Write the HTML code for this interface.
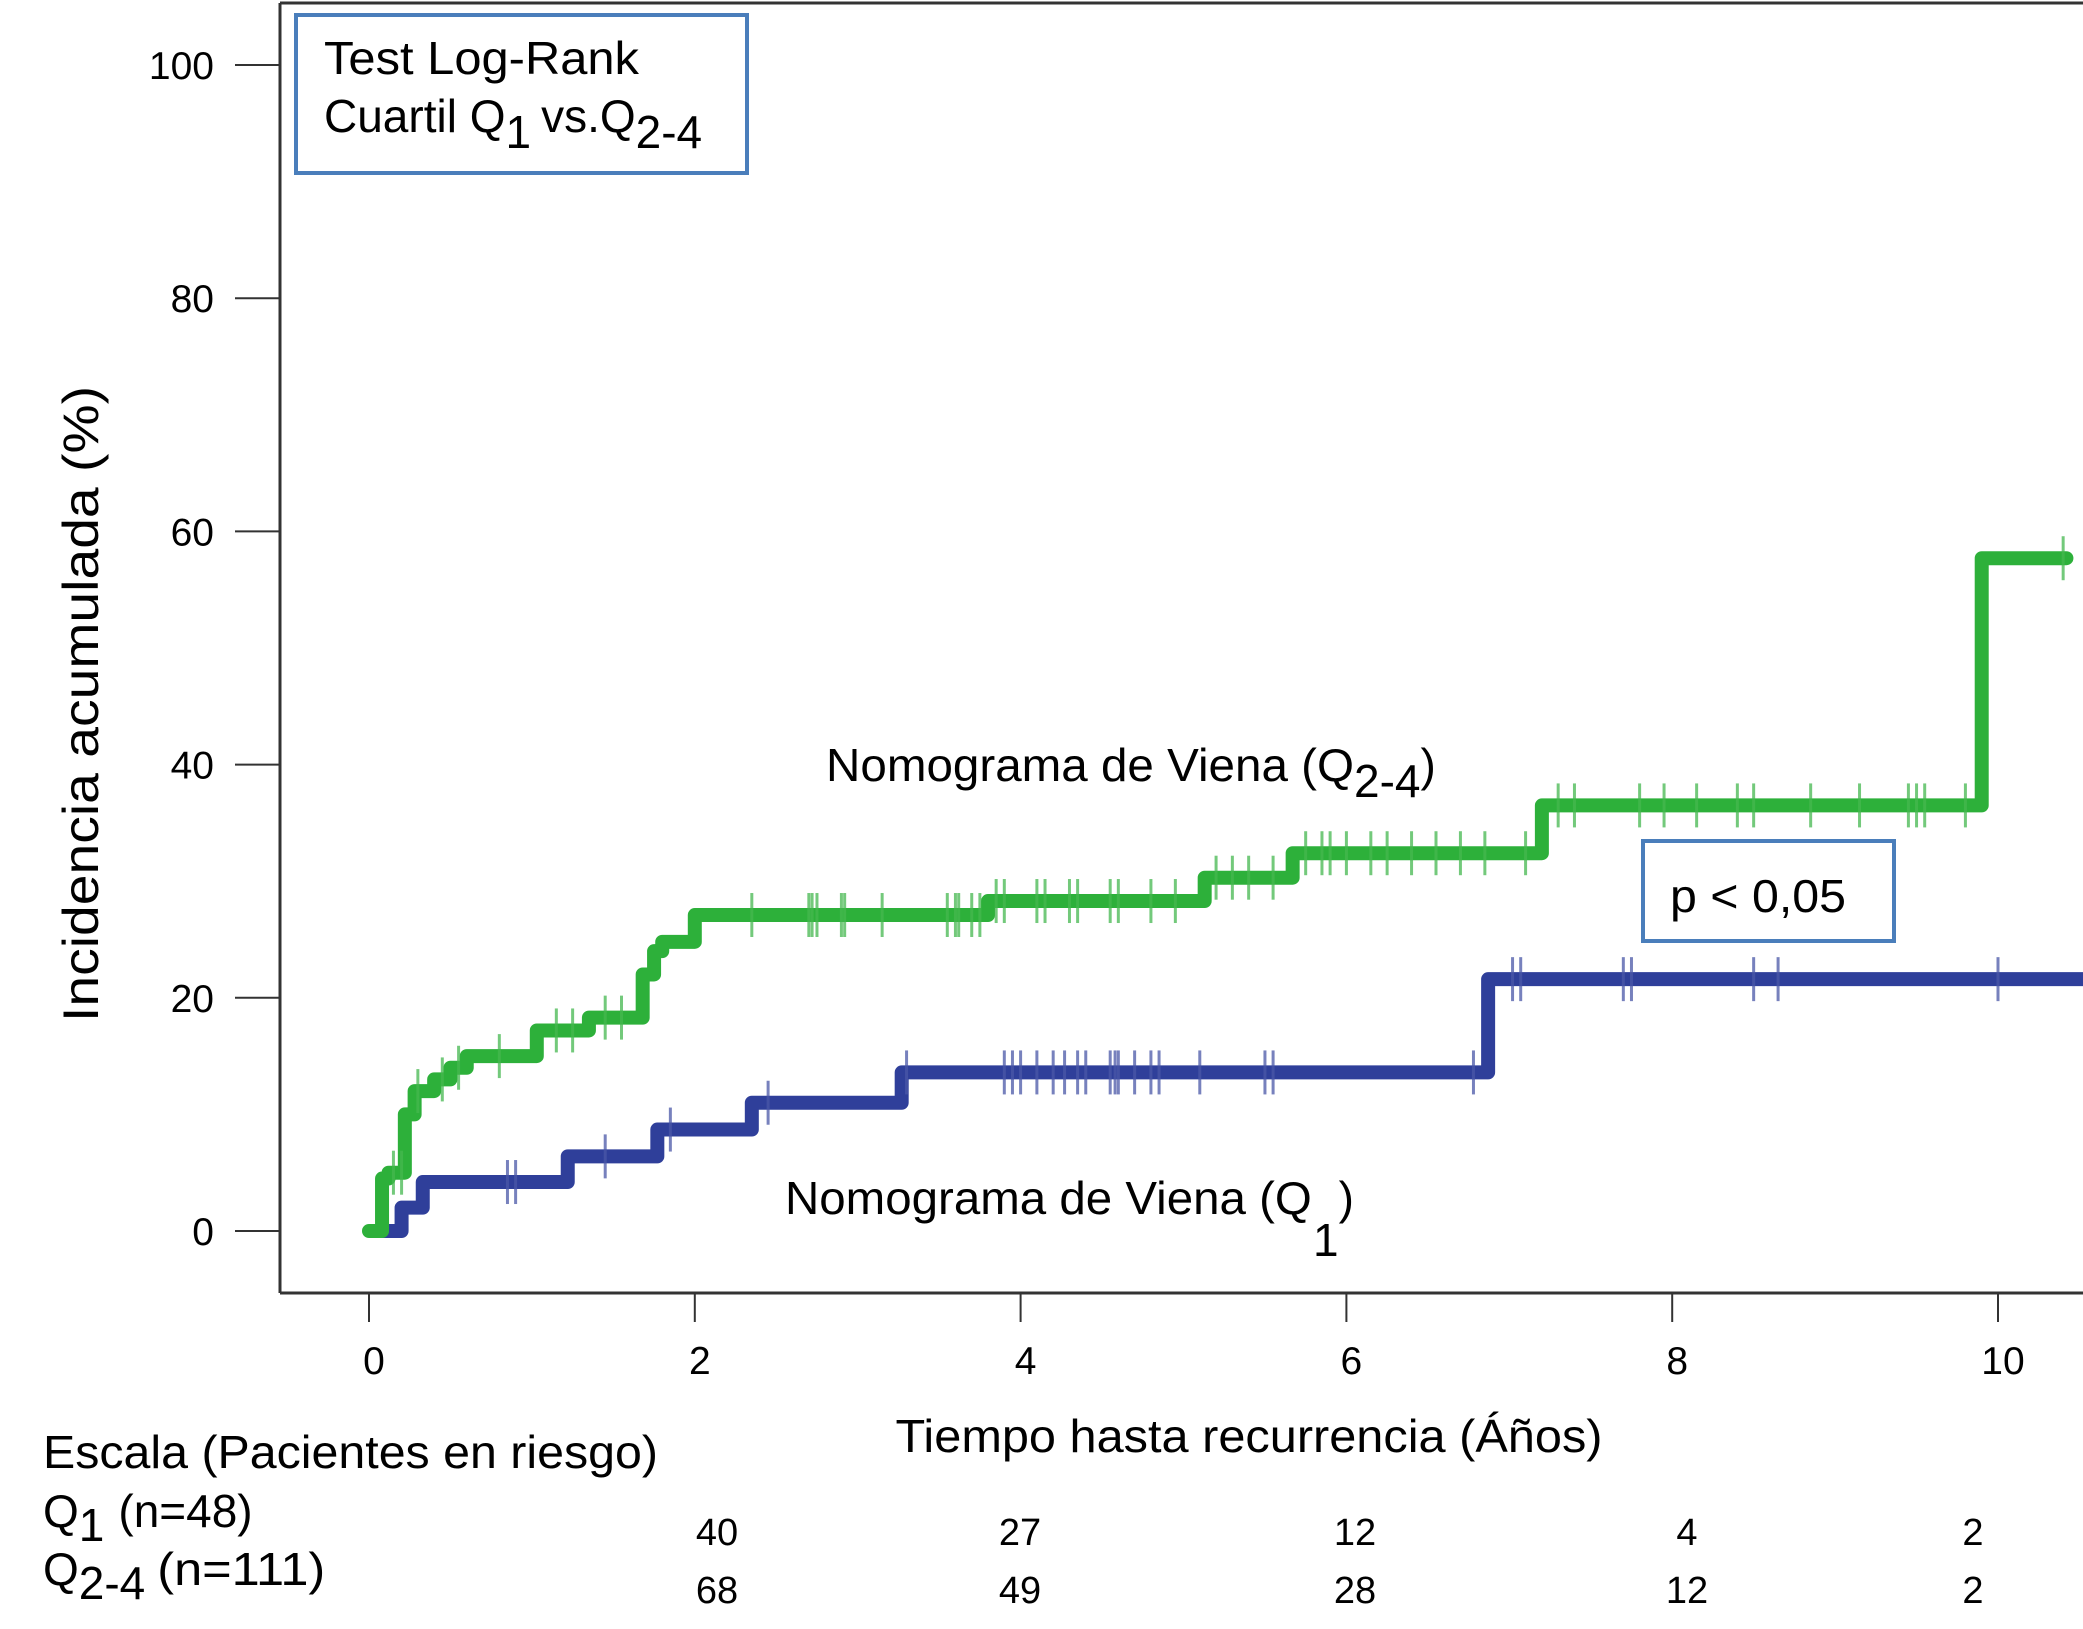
<!DOCTYPE html>
<html><head><meta charset="utf-8"><style>
html,body{margin:0;padding:0;background:#fff;}
svg{display:block;font-family:"Liberation Sans",sans-serif;}
</style></head><body>
<svg id="chart" width="2083" height="1629" viewBox="0 0 2083 1629">
<g id="axes"></g>
<g id="series"></g>
<rect x="296" y="15" width="451" height="158" fill="none" stroke="#4a7ebb" stroke-width="4"/>
<text x="324" y="74" font-size="46" textLength="315" lengthAdjust="spacingAndGlyphs">Test Log-Rank</text>
<text x="324" y="132" font-size="46">Cuartil Q<tspan dy="16">1</tspan><tspan dy="-16" dx="10">vs.Q</tspan><tspan dy="16">2-4</tspan></text>
<rect x="1643" y="841" width="251" height="100" fill="none" stroke="#4a7ebb" stroke-width="4"/>
<text x="1670" y="912" font-size="46" textLength="176" lengthAdjust="spacingAndGlyphs">p &lt; 0,05</text>
<text x="826" y="781" font-size="46"><tspan textLength="528" lengthAdjust="spacingAndGlyphs">Nomograma de Viena (Q</tspan><tspan dy="16">2-4</tspan><tspan dy="-16">)</tspan></text>
<text x="785" y="1214" font-size="46"><tspan textLength="540" lengthAdjust="spacingAndGlyphs">Nomograma de Viena (Q </tspan><tspan dx="-12" dy="42">1</tspan><tspan dy="-42">)</tspan></text>
<text transform="translate(98,704) rotate(-90)" text-anchor="middle" font-size="50" textLength="636" lengthAdjust="spacingAndGlyphs">Incidencia acumulada (%)</text>
<text x="1249" y="1452" text-anchor="middle" font-size="46" textLength="707" lengthAdjust="spacingAndGlyphs">Tiempo hasta recurrencia (Áños)</text>
<text x="43" y="1468" font-size="46" textLength="615" lengthAdjust="spacingAndGlyphs">Escala (Pacientes en riesgo)</text>
<text x="43" y="1527" font-size="46">Q<tspan dy="14">1</tspan><tspan dy="-14" dx="14">(n=48)</tspan></text>
<text x="43" y="1585" font-size="46">Q<tspan dy="14">2-4</tspan><tspan dy="-14" dx="12" textLength="168" lengthAdjust="spacingAndGlyphs">(n=111)</tspan></text>
<g id="risk"></g>
</svg>
<script>
const xTicks=[0,2,4,6,8,10];
const yTicks=[0,20,40,60,80,100];
const greenTimes=[0,0.08,0.12,0.22,0.28,0.4,0.5,0.6,1.03,1.35,1.68,1.75,1.8,2.0,3.8,5.13,5.67,7.2,9.9,10.42];
const greenValues=[0,4.5,5,10,12,13,14,15,17.2,18.3,22,24,24.8,27.1,28.3,30.3,32.4,36.5,57.7,57.7];
const blueTimes=[0,0.2,0.33,1.22,1.77,2.35,3.27,6.87,10.6];
const blueValues=[0,2,4.2,6.4,8.7,11,13.6,21.6,21.6];
const greenCensor=[0.15,0.2,0.3,0.45,0.55,0.8,1.15,1.25,1.45,1.55,2.35,2.7,2.72,2.75,2.9,2.92,3.15,3.55,3.6,3.62,3.7,3.75,3.85,3.9,4.1,4.15,4.3,4.35,4.55,4.6,4.8,4.95,5.2,5.3,5.4,5.55,5.75,5.85,5.9,6.0,6.15,6.25,6.4,6.55,6.7,6.85,7.1,7.3,7.4,7.8,7.95,8.15,8.4,8.5,8.85,9.15,9.45,9.5,9.55,9.8,10.4];
const blueCensor=[0.85,0.9,1.45,1.85,2.45,3.3,3.9,3.95,4.0,4.1,4.2,4.27,4.35,4.4,4.55,4.58,4.6,4.7,4.8,4.85,5.1,5.5,5.55,6.78,7.02,7.07,7.7,7.75,8.5,8.65,10.0];
const riskTimes=[2,4,6,8,10];
const riskQ1=[40,27,12,4,2];
const riskQ24=[68,49,28,12,2];
const riskXs=[717,1020,1355,1687,1973];

const NS='http://www.w3.org/2000/svg';
const X=t=>369+t*162.9;
const Y=v=>1231-v*11.66;
function mk(tag,attrs,parent){const e=document.createElementNS(NS,tag);for(const k in attrs)e.setAttribute(k,attrs[k]);parent.appendChild(e);return e;}
const axes=document.getElementById('axes');
let e;
e=mk('line',{x1:280,y1:3,x2:280,y2:1293,stroke:'#333','stroke-width':3},axes);


e=mk('line',{x1:280,y1:1293,x2:2083,y2:1293,stroke:'#333','stroke-width':3},axes);


e=mk('line',{x1:280,y1:3,x2:2083,y2:3,stroke:'#333','stroke-width':3},axes);


yTicks.forEach(v=>{
 e=mk('line',{x1:235,y1:Y(v),x2:280,y2:Y(v),stroke:'#333','stroke-width':2},axes);
 
 
 e=mk('text',{x:214,y:Y(v)+14,'text-anchor':'end','font-size':39},axes);e.textContent=v;
 
 
});
xTicks.forEach(t=>{
 e=mk('line',{x1:X(t),y1:1293,x2:X(t),y2:1322,stroke:'#333','stroke-width':2},axes);
 
 
 e=mk('text',{x:X(t)+5,y:1374,'text-anchor':'middle','font-size':39},axes);e.textContent=t;
 
 
});
const series=document.getElementById('series');
function stepPath(ts,vs){let d='M'+X(ts[0])+','+Y(vs[0]);for(let i=1;i<ts.length;i++){d+=' H'+X(ts[i])+' V'+Y(vs[i]);}return d;}
function valAt(ts,vs,t){let v=vs[0];for(let i=0;i<ts.length;i++){if(ts[i]<=t)v=vs[i];}return v;}
function drawCensor(ts,vs,cs,color,name){cs.forEach(t=>{const v=valAt(ts,vs,t);
 e=mk('line',{x1:X(t),y1:Y(v)-22,x2:X(t),y2:Y(v)+22,stroke:color,'stroke-width':3,opacity:0.75},series);
 
 });}
e=mk('path',{d:stepPath(blueTimes,blueValues),fill:'none',stroke:'#2f3f9a','stroke-width':14,'stroke-linejoin':'round'},series);


drawCensor(blueTimes,blueValues,blueCensor,'#4a58a8','q1-censor-mark');
e=mk('path',{d:stepPath(greenTimes,greenValues),fill:'none',stroke:'#2db03a','stroke-width':14,'stroke-linejoin':'round','stroke-linecap':'round'},series);


drawCensor(greenTimes,greenValues,greenCensor,'#45b84f','q2-4-censor-mark');
const risk=document.getElementById('risk');
riskTimes.forEach((t,i)=>{
 e=mk('text',{x:riskXs[i],y:1545,'text-anchor':'middle','font-size':38},risk);e.textContent=riskQ1[i];
 
 
 e=mk('text',{x:riskXs[i],y:1603,'text-anchor':'middle','font-size':38},risk);e.textContent=riskQ24[i];
 
 
});
</script>
</body></html>
